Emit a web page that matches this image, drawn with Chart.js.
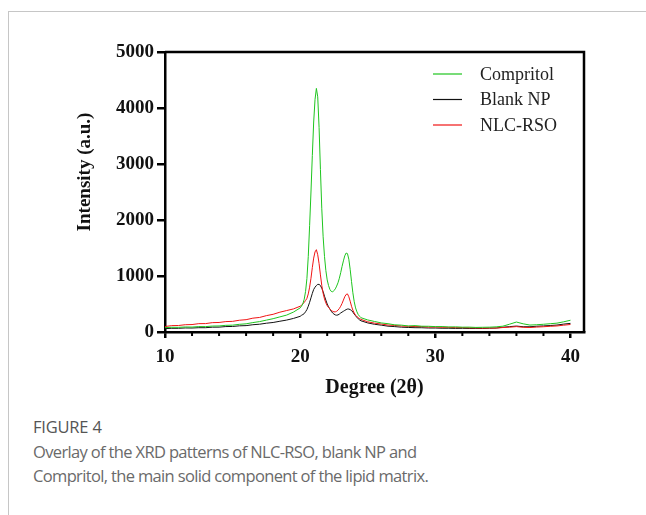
<!DOCTYPE html>
<html lang="en">
<head>
  <meta charset="utf-8">
  <title>Figure 4 - XRD patterns</title>
  <script src="https://cdn.jsdelivr.net/npm/chart.js@4.4.1/dist/chart.umd.min.js"></script>
  <style>
    html, body { margin: 0; padding: 0; background: #fff; }
    .page { position: relative; width: 646px; height: 515px; overflow: hidden; }
    .frame { position: absolute; left: 8px; top: 11px; right: -2px; bottom: -2px;
             border-top: 1px solid #c6c6c6; border-left: 1px solid #c6c6c6; }
    #xrd { position: absolute; left: 0; top: 0; }
    .fig-no { position: absolute; left: 33px; top: 416px; font: 500 16.5px "Open Sans", sans-serif;
              color: #555; margin: 0; line-height: 22px; letter-spacing: -0.2px; }
    .fig-text { position: absolute; left: 33px; top: 440px; width: 610px; font: 16.5px "Open Sans", sans-serif;
                color: #6a6a6a; margin: 0; line-height: 23.5px; letter-spacing: -0.65px; }
  </style>
</head>
<body>
<div class="page">
  <div class="frame"></div>
  <canvas id="xrd" width="646" height="400"></canvas>
  <p class="fig-no">FIGURE 4</p>
  <p class="fig-text">Overlay of the XRD patterns of NLC-RSO, blank NP and<br>Compritol, the main solid component of the lipid matrix.</p>
</div>

<script>
  // 2θ positions (deg)
  var degrees = [
    10, 10.5, 11, 11.5, 12, 12.5, 13, 13.5, 14, 14.5, 15, 15.5, 16, 16.5, 17, 17.5, 18, 18.5, 19, 19.5,
    20.0, 20.1, 20.2, 20.3, 20.4, 20.5, 20.6, 20.7, 20.8, 20.9, 21.0, 21.1, 21.2, 21.3, 21.4, 21.5,
    21.6, 21.7, 21.8, 21.9, 22.0, 22.1, 22.2, 22.3, 22.4, 22.5, 22.6, 22.7, 22.8, 22.9, 23.0, 23.1,
    23.2, 23.3, 23.4, 23.5, 23.6, 23.7, 23.8, 23.9, 24.0, 24.1, 24.2, 24.3, 24.4, 24.5,
    25, 25.5, 26, 26.5, 27, 27.5, 28, 28.5, 29, 29.5, 30, 30.5, 31, 31.5, 32, 32.5, 33, 33.5,
    34, 34.5, 35, 35.5, 36, 36.5, 37, 37.5, 38, 38.5, 39, 39.5, 40
  ];

  var compritol = [
    78, 84, 83, 90, 88, 97, 96, 106, 108, 119, 122, 137, 146, 168, 186, 212, 238, 270, 302, 355,
    430, 462, 505, 585, 725, 955, 1350, 1900, 2500, 3150, 3750, 4150, 4350, 4200, 3650, 2900,
    2200, 1700, 1350, 1100, 930, 830, 760, 725, 715, 740, 770, 820, 880, 960, 1060, 1170,
    1270, 1360, 1410, 1400, 1300, 1120, 900, 700, 540, 430, 360, 310, 280, 255,
    215, 188, 162, 148, 128, 122, 108, 114, 103, 102, 96, 97, 90, 92, 86, 87, 82, 84,
    86, 92, 104, 140, 178, 146, 124, 130, 138, 148, 158, 182, 210
  ];

  var blankNP = [
    60, 66, 66, 72, 71, 77, 77, 86, 87, 97, 99, 110, 114, 130, 139, 157, 170, 192, 213, 242,
    280, 298, 312, 328, 362, 400, 460, 530, 610, 690, 760, 800, 830, 850, 850, 830,
    780, 720, 640, 570, 500, 450, 410, 370, 340, 320, 305, 300, 305, 320, 340, 355,
    370, 385, 400, 410, 410, 400, 385, 355, 320, 290, 260, 235, 215, 200,
    162, 138, 122, 104, 96, 86, 81, 77, 76, 71, 71, 67, 67, 64, 66, 63, 64, 62,
    67, 71, 85, 96, 106, 94, 94, 103, 109, 116, 124, 141, 154
  ];

  var nlcRSO = [
    98, 114, 116, 130, 133, 149, 150, 167, 170, 186, 190, 210, 220, 247, 260, 292, 316, 354, 383, 412,
    460, 478, 502, 528, 562, 600, 680, 800, 960, 1150, 1320, 1430, 1470, 1380, 1220, 1020,
    830, 690, 590, 520, 470, 440, 410, 385, 370, 360, 360, 370, 390, 420, 460, 510,
    570, 630, 670, 680, 630, 550, 460, 390, 340, 300, 275, 255, 240, 225,
    182, 158, 142, 124, 117, 106, 101, 97, 96, 88, 89, 84, 83, 78, 79, 74, 73, 69,
    71, 70, 80, 86, 96, 84, 80, 88, 94, 102, 108, 122, 134
  ];

  var xMajor = [10, 20, 30, 40];
  var xMinor = [12, 14, 16, 18, 22, 24, 26, 28, 32, 34, 36, 38];
  var yTicks = [0, 1000, 2000, 3000, 4000, 5000];

  var seriesNames = ['Compritol', 'Blank NP', 'NLC-RSO'];
  var seriesColors = ['#1ec51e', '#111111', '#f01414'];

  function pts(vals) {
    return degrees.map(function (d, i) { return { x: d, y: vals[i] }; });
  }

  var serif = '"Liberation Serif", "Times New Roman", serif';

  // frame, minor ticks, y title and legend
  var extras = {
    id: 'extras',
    afterDraw: function (chart) {
      var ctx = chart.ctx, a = chart.chartArea, xs = chart.scales.x;
      ctx.save();
      ctx.strokeStyle = '#000';
      ctx.lineWidth = 2.5;
      ctx.beginPath();
      ctx.moveTo(a.left, a.top);
      ctx.lineTo(a.right, a.top);
      ctx.lineTo(a.right, a.bottom);
      ctx.stroke();

      ctx.lineWidth = 2;
      xMinor.forEach(function (v) {
        var px = xs.getPixelForValue(v);
        ctx.beginPath();
        ctx.moveTo(px, a.bottom);
        ctx.lineTo(px, a.bottom + 4);
        ctx.stroke();
      });

      ctx.fillStyle = '#111';
      ctx.font = 'bold 19px ' + serif;
      ctx.textAlign = 'center';
      ctx.textBaseline = 'middle';
      ctx.translate(85, 172);
      ctx.rotate(-Math.PI / 2);
      ctx.fillText('Intensity (a.u.)', 0, 0);
      ctx.restore();

      ctx.save();
      ctx.font = '18px ' + serif;
      ctx.textBaseline = 'middle';
      ctx.textAlign = 'left';
      seriesNames.forEach(function (name, i) {
        var y = 74 + i * 25.5;
        ctx.strokeStyle = seriesColors[i];
        ctx.lineWidth = 1.2;
        ctx.beginPath();
        ctx.moveTo(433, y);
        ctx.lineTo(462, y);
        ctx.stroke();
        ctx.fillStyle = '#222';
        ctx.fillText(name, 480, y + 1);
      });
      ctx.restore();
    }
  };

  new Chart(document.getElementById('xrd').getContext('2d'), {
    type: 'line',
    data: {
      datasets: [
        { label: seriesNames[1], data: pts(blankNP), borderColor: seriesColors[1], order: 3 },
        { label: seriesNames[2], data: pts(nlcRSO), borderColor: seriesColors[2], order: 2 },
        { label: seriesNames[0], data: pts(compritol), borderColor: seriesColors[0], order: 1 }
      ]
    },
    options: {
      responsive: false,
      animation: false,
      events: [],
      layout: { padding: { left: 0, right: 62, top: 52, bottom: 0 } },
      elements: {
        line: { borderWidth: 1, tension: 0 },
        point: { radius: 0 }
      },
      plugins: { legend: { display: false }, tooltip: { enabled: false } },
      scales: {
        x: {
          type: 'linear',
          min: 10,
          max: 41,
          afterBuildTicks: function (s) { s.ticks = xMajor.map(function (v) { return { value: v }; }); },
          afterFit: function (s) { s.height = 68; },
          grid: { drawOnChartArea: false, drawTicks: true, tickLength: 6, color: '#000', lineWidth: 2.5 },
          border: { display: true, color: '#000', width: 2.5 },
          ticks: {
            color: '#111', padding: 8, font: { family: serif, size: 19, weight: 'bold' },
            callback: function (v) { return String(v); }
          },
          title: {
            display: true,
            text: 'Degree (2θ)',
            color: '#111',
            padding: 0,
            font: { family: serif, size: 20, weight: 'bold' }
          }
        },
        y: {
          min: 0,
          max: 5000,
          afterBuildTicks: function (s) { s.ticks = yTicks.map(function (v) { return { value: v }; }); },
          afterFit: function (s) { s.width = 165; },
          grid: { drawOnChartArea: false, drawTicks: true, tickLength: 8, color: '#000', lineWidth: 2.5 },
          border: { display: true, color: '#000', width: 2.5 },
          ticks: {
            color: '#111', padding: 3, font: { family: serif, size: 19, weight: 'bold' },
            callback: function (v) { return String(v); }
          }
        }
      }
    },
    plugins: [extras]
  });
</script>
</body>
</html>
